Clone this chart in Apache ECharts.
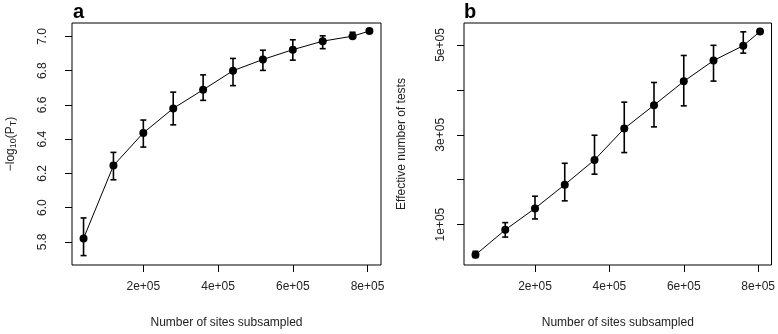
<!DOCTYPE html>
<html>
<head>
<meta charset="utf-8">
<script src="https://cdn.jsdelivr.net/npm/echarts@6/dist/echarts.min.js"></script>
<style>
  html, body { margin: 0; padding: 0; background: #fff; }
  #chart { width: 778px; height: 334px; }
</style>
</head>
<body>
<div id="chart"></div>
<script>
// subsample sizes (shared by both panels)
const sites = [40000, 120000, 200000, 280000, 360000, 440000, 520000, 600000, 680000, 760000, 805000]
const xTicks = [200000, 400000, 600000, 800000]

// panel a: -log10(P_T)
const pT = [5.82, 6.246, 6.437, 6.58, 6.689, 6.80, 6.866, 6.923, 6.973, 7.002, 7.032]
const pTLow = [5.72, 6.163, 6.354, 6.484, 6.627, 6.713, 6.802, 6.862, 6.929, 6.99, null]
const pTHigh = [5.94, 6.323, 6.512, 6.675, 6.776, 6.872, 6.92, 6.981, 7.004, 7.025, null]
const pTicks = [5.8, 6.0, 6.2, 6.4, 6.6, 6.8, 7.0]

// panel b: effective number of tests
const tests = [32600, 88300, 136100, 189000, 244000, 313900, 366000, 419000, 465400, 498500, 530000]
const testsLow = [26700, 72200, 112600, 152900, 212300, 260400, 317600, 364500, 419600, 481900, null]
const testsHigh = [40500, 104400, 163200, 236600, 299000, 372700, 416500, 476700, 499300, 529300, null]
const testTicks = [100000, 200000, 300000, 400000, 500000]
const testLabels = [100000, 300000, 500000]

const font = '"Liberation Sans", Arial, sans-serif'
const txt = '#222'

const sci = v => (v / 1e5) + 'e+05'

function pairs (xs, ys) {
  return xs.map((x, i) => [x, ys[i]])
}

function bars (xs, lo, hi) {
  return xs.map((x, i) => [x, lo[i], hi[i]]).filter(d => d[1] !== null)
}

function errorBar (params, api) {
  const x = api.value(0)
  const a = api.coord([x, api.value(1)])
  const b = api.coord([x, api.value(2)])
  const w = 3
  const style = { stroke: '#000', lineWidth: 1.6 }
  return {
    type: 'group',
    children: [
      { type: 'line', shape: { x1: a[0], y1: a[1], x2: b[0], y2: b[1] }, style },
      { type: 'line', shape: { x1: a[0] - w, y1: a[1], x2: a[0] + w, y2: a[1] }, style },
      { type: 'line', shape: { x1: b[0] - w, y1: b[1], x2: b[0] + w, y2: b[1] }, style }
    ]
  }
}

function xAxis (gridIndex) {
  return {
    type: 'value',
    gridIndex,
    min: 9100,
    max: 836000,
    name: 'Number of sites subsampled',
    nameLocation: 'middle',
    nameGap: 52,
    nameTextStyle: { fontFamily: font, fontSize: 12, color: txt },
    axisLine: { show: false },
    axisTick: { show: true, length: 7, customValues: xTicks, lineStyle: { color: '#000', width: 1 } },
    axisLabel: { customValues: xTicks, formatter: sci, margin: 16, fontFamily: font, fontSize: 12, color: txt },
    splitLine: { show: false }
  }
}

const chart = echarts.init(document.getElementById('chart'))

chart.setOption({
  animation: false,
  title: [
    { text: 'a', left: 73, top: 2, padding: 0, textStyle: { fontFamily: font, fontSize: 20, fontWeight: 'bold', color: '#000' } },
    { text: 'b', left: 464, top: 2, padding: 0, textStyle: { fontFamily: font, fontSize: 20, fontWeight: 'bold', color: '#000' } }
  ],
  grid: [
    { left: 72, top: 23, width: 309, height: 244, show: true, borderColor: '#000', borderWidth: 1 },
    { left: 464, top: 23, width: 308, height: 244, show: true, borderColor: '#000', borderWidth: 1 }
  ],
  xAxis: [xAxis(0), xAxis(1)],
  yAxis: [
    {
      type: 'value',
      gridIndex: 0,
      min: 5.665,
      max: 7.079,
      name: '−log{s|10}(P{s|T})',
      nameLocation: 'middle',
      nameGap: 54,
      nameTextStyle: {
        fontFamily: font,
        fontSize: 12,
        color: txt,
        rich: { s: { fontFamily: font, fontSize: 9, color: txt, padding: [5, 0, 0, 0] } }
      },
      axisLine: { show: false },
      axisTick: { show: true, length: 7, customValues: pTicks, lineStyle: { color: '#000', width: 1 } },
      axisLabel: { customValues: pTicks, rotate: 90, margin: 23, formatter: v => v.toFixed(1), fontFamily: font, fontSize: 12, color: txt },
      splitLine: { show: false }
    },
    {
      type: 'value',
      gridIndex: 1,
      min: 10000,
      max: 549000,
      name: 'Effective number of tests',
      nameLocation: 'middle',
      nameGap: 56,
      nameTextStyle: { fontFamily: font, fontSize: 12, color: txt },
      axisLine: { show: false },
      axisTick: { show: true, length: 7, customValues: testTicks, lineStyle: { color: '#000', width: 1 } },
      axisLabel: { customValues: testLabels, rotate: 90, margin: 17, formatter: sci, fontFamily: font, fontSize: 12, color: txt },
      splitLine: { show: false }
    }
  ],
  series: [
    {
      type: 'custom',
      xAxisIndex: 0,
      yAxisIndex: 0,
      renderItem: errorBar,
      data: bars(sites, pTLow, pTHigh)
    },
    {
      type: 'line',
      xAxisIndex: 0,
      yAxisIndex: 0,
      data: pairs(sites, pT),
      symbol: 'circle',
      symbolSize: 8,
      itemStyle: { color: '#000' },
      lineStyle: { color: '#000', width: 1 }
    },
    {
      type: 'custom',
      xAxisIndex: 1,
      yAxisIndex: 1,
      renderItem: errorBar,
      data: bars(sites, testsLow, testsHigh)
    },
    {
      type: 'line',
      xAxisIndex: 1,
      yAxisIndex: 1,
      data: pairs(sites, tests),
      symbol: 'circle',
      symbolSize: 8,
      itemStyle: { color: '#000' },
      lineStyle: { color: '#000', width: 1 }
    }
  ]
})
</script>
</body>
</html>
